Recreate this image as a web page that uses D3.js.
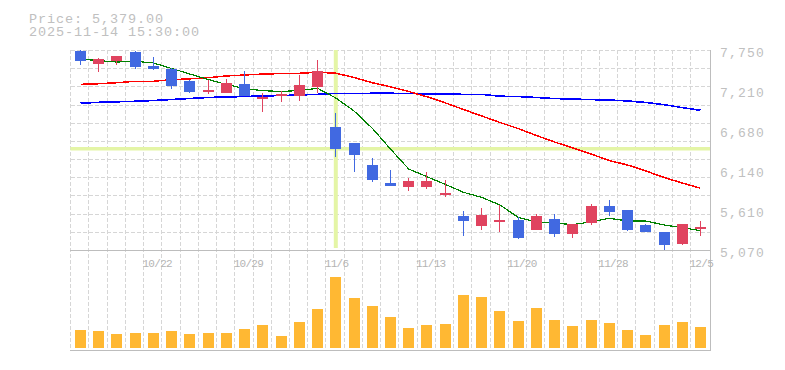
<!DOCTYPE html>
<html>
<head>
<meta charset="utf-8">
<script src="https://cdn.jsdelivr.net/npm/d3@7/dist/d3.min.js"></script>
<style>
  html, body { margin: 0; padding: 0; background: #fff; }
  svg { display: block; }
</style>
</head>
<body>
<svg id="chart" width="785" height="370"></svg>
<script>
// ---------- data ----------
const dates = ["10/16","10/17","10/20","10/21","10/22","10/23","10/24","10/27","10/28","10/29",
  "10/30","10/31","11/4","11/5","11/6","11/7","11/10","11/11","11/12","11/13",
  "11/14","11/17","11/18","11/19","11/20","11/21","11/25","11/26","11/27","11/28",
  "12/1","12/2","12/3","12/4","12/5"];
const opens  = [7737,7566,7607,7723,7536,7495,7335,7187,7178,7294,
  7097,7138,7138,7258,6718,6504,6209,5972,5918,5918,
  5803,5526,5396,5452,5472,5342,5485,5284,5432,5660,
  5606,5405,5311,5150,5372];
const highs  = [7750,7639,7675,7732,7656,7505,7352,7352,7361,7469,
  7178,7205,7415,7616,6910,6504,6307,6142,6039,6115,
  6008,5597,5633,5673,5508,5552,5552,5418,5686,5740,
  5606,5418,5311,5418,5459];
const lows   = [7553,7459,7553,7499,7482,7231,7178,7164,7170,7134,
  6923,7057,7071,7170,6312,6119,5981,5932,5865,5887,
  5776,5262,5342,5307,5221,5334,5248,5231,5409,5526,
  5329,5311,5070,5137,5262];
const closes = [7607,7629,7670,7526,7499,7272,7191,7214,7308,7134,
  7124,7164,7281,7469,6427,6347,6008,5932,5995,5995,
  5830,5463,5539,5466,5235,5526,5284,5418,5660,5579,
  5338,5311,5141,5418,5379];
const volumes = [180000,170000,140000,150000,150000,170000,140000,150000,150000,190000,
  230000,120000,260000,390000,710000,500000,420000,310000,200000,230000,
  240000,530000,510000,370000,270000,400000,280000,220000,280000,250000,
  180000,130000,230000,260000,210000];
const ma5  = [7629,7607,7589,7599,7576,7502,7428,7355,7288,7234,
  7205,7194,7207,7237,7107,6933,6701,6423,6155,6052,
  5950,5843,5776,5673,5508,5445,5428,5412,5445,5495,
  5459,5459,5405,5369,5329];
const ma25 = [7290,7298,7312,7331,7331,7352,7364,7379,7402,7415,
  7428,7434,7438,7451,7439,7382,7312,7257,7194,7123,
  7042,6953,6866,6779,6698,6604,6517,6437,6356,6269,
  6209,6129,6042,5968,5897];
const ma75 = [7036,7049,7056,7063,7073,7087,7100,7114,7120,7127,
  7134,7140,7147,7156,7167,7167,7170,7170,7168,7160,
  7158,7156,7156,7131,7126,7114,7099,7093,7085,7080,
  7067,7047,7018,6978,6942];
const priceTickValues = [7750,7210,6680,6140,5610,5070];
const priceTickLabels = ["7,750","7,210","6,680","6,140","5,610","5,070"];
const dateTickLabels = ["10/22","10/29","11/6","11/13","11/20","11/28","12/5"];
const crossIndex = 14;
const titleLines = ["Price: 5,379.00", "2025-11-14 15:30:00"];

// ---------- layout ----------
const svg = d3.select("#chart");
const left = 71.4, right = 709.6, axisX = 710.5;
const pTop = 50, pBot = 250, vBot = 348, vAxis = 350;

const x = d3.scaleBand().domain(dates).range([left, right]).padding(0);
const bw = x.bandwidth();
const cx = d => x(d) + bw / 2;
const y = d3.scaleLinear().domain([5070, 7750]).range([pBot, pTop]);
const yv = d3.scaleLinear().domain([0, 980000]).range([vBot, pBot]);

const gridColor = "#d6d6d6";
const axisColor = "#bdbdbd";
const textColor = "#c0c0c0";

// horizontal grid (price panel)
const hGrid = d3.range(11).map(i => 5070 + i * (7750 - 5070) / 11).slice(1);
svg.append("g").selectAll("line").data(hGrid.concat([7750])).join("line")
  .attr("x1", left - 0.7).attr("x2", axisX)
  .attr("y1", d => Math.round(y(d)) + 0.5).attr("y2", d => Math.round(y(d)) + 0.5)
  .attr("stroke", gridColor).attr("stroke-width", 1).attr("stroke-dasharray", "4,2")
  .attr("shape-rendering", "crispEdges");

// vertical grid
svg.append("g").selectAll("line").data(dates).join("line")
  .attr("x1", d => Math.floor(x(d) - 0.7) + 0.5).attr("x2", d => Math.floor(x(d) - 0.7) + 0.5)
  .attr("y1", pTop).attr("y2", vAxis)
  .attr("stroke", gridColor).attr("stroke-width", 1).attr("stroke-dasharray", "4,2")
  .attr("shape-rendering", "crispEdges");

// crosshair
const crossColor = "#e4f5a6";
svg.append("line")
  .attr("x1", cx(dates[crossIndex])).attr("x2", cx(dates[crossIndex]))
  .attr("y1", pTop).attr("y2", pBot - 2)
  .attr("stroke", crossColor).attr("stroke-width", 4);
svg.append("line")
  .attr("x1", left - 1).attr("x2", axisX)
  .attr("y1", y(closes[crossIndex])).attr("y2", y(closes[crossIndex]))
  .attr("stroke", crossColor).attr("stroke-width", 3.3);

// axes lines
svg.append("line").attr("x1", left - 1.4).attr("x2", axisX).attr("y1", pBot + 0.5).attr("y2", pBot + 0.5)
  .attr("stroke", axisColor).attr("shape-rendering", "crispEdges");
svg.append("line").attr("x1", left - 1.4).attr("x2", axisX).attr("y1", vAxis + 0.5).attr("y2", vAxis + 0.5)
  .attr("stroke", axisColor).attr("shape-rendering", "crispEdges");
svg.append("line").attr("x1", axisX).attr("x2", axisX).attr("y1", pTop).attr("y2", vAxis + 1)
  .attr("stroke", axisColor).attr("shape-rendering", "crispEdges");

// volume bars
svg.append("g").selectAll("rect").data(dates).join("rect")
  .attr("x", d => cx(d) - 5.5).attr("width", 11)
  .attr("y", (d, i) => yv(volumes[i])).attr("height", (d, i) => vBot - yv(volumes[i]))
  .attr("fill", "#ffb833").attr("shape-rendering", "crispEdges");

// moving averages
const line = d3.line().x((d, i) => cx(dates[i])).y(d => y(d));
svg.append("path").datum(ma75).attr("d", line).attr("fill", "none").attr("stroke", "#0000ff")
  .attr("stroke-width", 1.6).attr("shape-rendering", "crispEdges");
svg.append("path").datum(ma25).attr("d", line).attr("fill", "none").attr("stroke", "#ff0000")
  .attr("stroke-width", 1.5).attr("shape-rendering", "crispEdges");
svg.append("path").datum(ma5).attr("d", line).attr("fill", "none").attr("stroke", "#008000")
  .attr("stroke-width", 1.2).attr("shape-rendering", "crispEdges");

// candles
const upColor = "#e0435f", downColor = "#4169e1";
const cg = svg.append("g").selectAll("g").data(dates).join("g");
cg.append("line")
  .attr("x1", d => Math.floor(cx(d)) + 0.5).attr("x2", d => Math.floor(cx(d)) + 0.5)
  .attr("y1", (d, i) => y(highs[i])).attr("y2", (d, i) => y(lows[i]))
  .attr("stroke", (d, i) => closes[i] >= opens[i] ? upColor : downColor)
  .attr("stroke-width", 1).attr("shape-rendering", "crispEdges");
cg.append("rect")
  .attr("x", d => cx(d) - 5.5).attr("width", 11)
  .attr("y", (d, i) => y(Math.max(opens[i], closes[i])))
  .attr("height", (d, i) => Math.max(1.6, Math.abs(y(opens[i]) - y(closes[i]))))
  .attr("fill", (d, i) => closes[i] >= opens[i] ? upColor : downColor)
  .attr("shape-rendering", "crispEdges");

// price labels
svg.append("g").selectAll("text").data(priceTickValues).join("text")
  .attr("x", 720).attr("y", d => y(d) + 6.8)
  .text((d, i) => priceTickLabels[i])
  .attr("font-family", "Liberation Mono, DejaVu Sans Mono, monospace")
  .attr("font-size", 13).attr("letter-spacing", 1.2).attr("fill", textColor);

// date labels
svg.append("g").selectAll("text").data(dateTickLabels).join("text")
  .attr("x", d => cx(d) - 11).attr("y", 266.7)
  .text(d => d)
  .attr("font-family", "Liberation Mono, DejaVu Sans Mono, monospace")
  .attr("font-size", 11).attr("letter-spacing", -0.7).attr("fill", "#b4b4b4");

// title
svg.append("g").selectAll("text").data(titleLines).join("text")
  .attr("x", 29).attr("y", (d, i) => 22.7 + i * 13.5)
  .text(d => d)
  .attr("font-family", "Liberation Mono, DejaVu Sans Mono, monospace")
  .attr("font-size", 13.5).attr("letter-spacing", 0.9).attr("fill", textColor);
</script>
</body>
</html>
